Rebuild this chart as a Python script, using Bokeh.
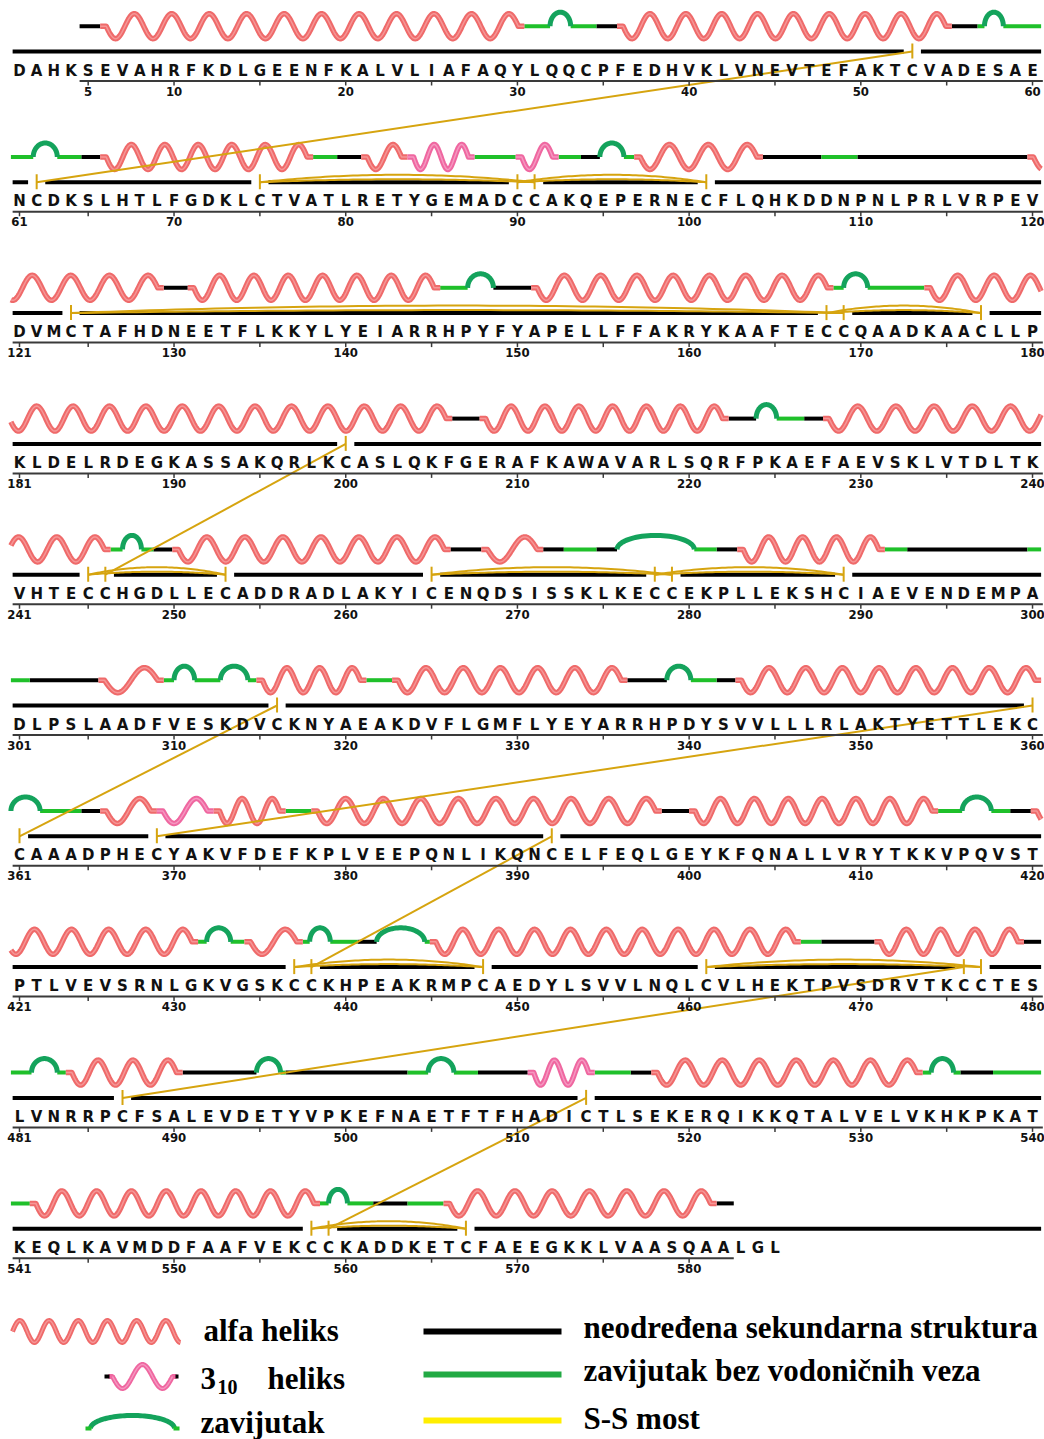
import numpy as np
from bokeh.plotting import figure
from bokeh.models import Range1d
from bokeh.core.properties import value
from bokeh.embed import file_html
from bokeh.resources import INLINE

# ---------------------------------------------------------------- data
SEQUENCE = (
    "DAHKSEVAHRFKDLGEENFKALVLIAFAQYLQQCPFEDHVKLVNEVTEFAKTCVADESAE"
    "NCDKSLHTLFGDKLCTVATLRETYGEMADCCAKQEPERNECFLQHKDDNPNLPRLVRPEV"
    "DVMCTAFHDNEETFLKKYLYEIARRHPYFYAPELLFFAKRYKAAFTECCQAADKAACLLP"
    "KLDELRDEGKASSAKQRLKCASLQKFGERAFKAWAVARLSQRFPKAEFAEVSKLVTDLTK"
    "VHTECCHGDLLECADDRADLAKYICENQDSISSKLKECCEKPLLEKSHCIAEVENDEMPA"
    "DLPSLAADFVESKDVCKNYAEAKDVFLGMFLYEYARRHPDYSVVLLLRLAKTYETTLEKC"
    "CAAADPHECYAKVFDEFKPLVEEPQNLIKQNCELFEQLGEYKFQNALLVRYTKKVPQVST"
    "PTLVEVSRNLGKVGSKCCKHPEAKRMPCAEDYLSVVLNQLCVLHEKTPVSDRVTKCCTES"
    "LVNRRPCFSALEVDETYVPKEFNAETFTFHADICTLSEKERQIKKQTALVELVKHKPKAT"
    "KEQLKAVMDDFAAFVEKCCKADDKETCFAEEGKKLVAASQAALGL"
)
RESIDUES_PER_ROW = 60
RULER_FIRST, RULER_LAST = 4.5, 582.6   # residues covered by the model
FIRST_LABEL = 5

# secondary structure: (kind, from, to) on the residue axis
# H alpha helix, G 3-10 helix, T turn, S bend, C undefined
SS_SEGMENTS = [
    ("C", 4.5, 5.7), ("H", 5.7, 30.4), ("S", 30.4, 31.9), ("T", 31.9, 33.1),
    ("S", 33.1, 34.6), ("C", 34.6, 35.8), ("H", 35.8, 55.3), ("C", 55.3, 56.8),
    ("S", 56.8, 57.2), ("T", 57.2, 58.3), ("S", 58.3, 61.8), ("T", 61.8, 63.2),
    ("S", 63.2, 64.6), ("C", 64.6, 65.7), ("H", 65.7, 78.1), ("S", 78.1, 79.5),
    ("C", 79.5, 80.9), ("H", 80.9, 83.6), ("G", 83.6, 87.5), ("S", 87.5, 89.9),
    ("G", 89.9, 92.4), ("S", 92.4, 93.7), ("C", 93.7, 94.8), ("T", 94.8, 96.2),
    ("S", 96.2, 96.8), ("H", 96.8, 104.3), ("C", 104.3, 107.7), ("S", 107.7, 109.8),
    ("C", 109.8, 119.7), ("H", 119.7, 129.4), ("C", 129.4, 130.8), ("H", 130.8, 145.5),
    ("S", 145.5, 147.1), ("T", 147.1, 148.6), ("C", 148.6, 150.8), ("H", 150.8, 168.4),
    ("S", 168.4, 169.0), ("T", 169.0, 170.4), ("S", 170.4, 173.7), ("H", 173.7, 206.2),
    ("C", 206.2, 207.8), ("H", 207.8, 222.3), ("C", 222.3, 223.9), ("T", 223.9, 225.1),
    ("S", 225.1, 226.7), ("C", 226.7, 227.8), ("H", 227.8, 246.3), ("S", 246.3, 247.0),
    ("T", 247.0, 248.1), ("S", 248.1, 248.8), ("C", 248.8, 249.9), ("H", 249.9, 266.1),
    ("C", 266.1, 267.9), ("H", 267.9, 271.5), ("C", 271.5, 272.7), ("S", 272.7, 274.6),
    ("C", 274.6, 275.8), ("T", 275.8, 280.3), ("S", 280.3, 281.6), ("C", 281.6, 282.8),
    ("H", 282.8, 291.4), ("S", 291.4, 292.7), ("C", 292.7, 299.7), ("S", 299.7, 301.6),
    ("C", 301.6, 305.6), ("H", 305.6, 309.4), ("S", 309.4, 310.0), ("T", 310.0, 311.2),
    ("S", 311.2, 312.7), ("T", 312.7, 314.3), ("S", 314.3, 314.8), ("H", 314.8, 321.2),
    ("S", 321.2, 322.7), ("H", 322.7, 336.4), ("C", 336.4, 338.7), ("T", 338.7, 340.1),
    ("S", 340.1, 341.6), ("C", 341.6, 342.7), ("H", 342.7, 360.5), ("T", 360.5, 362.2),
    ("S", 362.2, 364.6), ("C", 364.6, 365.7), ("H", 365.7, 369.0), ("G", 369.0, 372.3),
    ("H", 372.3, 376.5), ("S", 376.5, 378.0), ("H", 378.0, 398.4), ("C", 398.4, 400.0),
    ("H", 400.0, 414.5), ("S", 414.5, 415.9), ("T", 415.9, 417.6), ("S", 417.6, 418.7),
    ("C", 418.7, 419.9), ("H", 419.9, 431.4), ("S", 431.4, 431.9), ("T", 431.9, 433.3),
    ("S", 433.3, 434.1), ("H", 434.1, 437.5), ("S", 437.5, 437.9), ("T", 437.9, 439.1),
    ("S", 439.1, 440.7), ("C", 440.7, 441.8), ("T", 441.8, 444.6), ("S", 444.6, 444.9),
    ("H", 444.9, 466.5), ("S", 466.5, 467.7), ("C", 467.7, 470.8), ("H", 470.8, 479.5),
    ("C", 479.5, 480.5), ("S", 480.5, 481.7), ("T", 481.7, 483.2), ("S", 483.2, 483.7),
    ("H", 483.7, 490.5), ("C", 490.5, 494.8), ("T", 494.8, 496.2), ("S", 496.2, 496.5),
    ("C", 496.5, 503.6), ("S", 503.6, 504.8), ("T", 504.8, 506.3), ("S", 506.3, 507.7),
    ("C", 507.7, 510.6), ("G", 510.6, 514.5), ("S", 514.5, 516.6), ("C", 516.6, 517.8),
    ("H", 517.8, 533.6), ("S", 533.6, 534.1), ("T", 534.1, 535.4), ("S", 535.4, 535.8),
    ("C", 535.8, 537.7), ("S", 537.7, 541.6), ("H", 541.6, 558.5), ("S", 558.5, 559.0),
    ("T", 559.0, 560.1), ("S", 560.1, 561.6), ("C", 561.6, 563.6), ("S", 563.6, 565.7),
    ("H", 565.7, 581.6), ("C", 581.6, 582.6),
]

# disulfide bridges (cysteine pairs)
DISULFIDES = [
    (53, 62), (75, 91), (90, 101), (124, 169), (168, 177), (200, 246),
    (245, 253), (265, 279), (278, 289), (316, 361), (360, 369), (392, 438),
    (437, 448), (461, 477), (476, 487), (514, 559), (558, 567),
]

LEGEND_LEFT = ["alfa heliks", "heliks", "zavijutak"]
LEGEND_RIGHT = ["neodređena sekundarna struktura",
                "zavijutak bez vodoničnih veza", "S-S most"]

# ---------------------------------------------------------------- layout
W, H = 1044, 1439
PX = 17.17            # pixels per residue
X0 = 19.0             # pixel centre of the first column
ROW_STEP = 130.8
SS_Y, BB_Y, SEQ_Y, RULER_Y, NUM_Y = 25.7, 51.0, 70.0, 80.5, 90.5
AMP, PERIOD, STUB = 12.5, 2.1, 0.35
ARCH_H = 14.0

COL = dict(C="#000000", S="#1fc02a", T="#14a35c", H="#ef6a6a", G="#ef67a0")
HILITE = dict(H="#f59696", G="#f597c0")
BRIDGE = "#d6a40f"
SEQ_FONT = value("DejaVu Sans")
NUM_FONT = value("DejaVu Sans Condensed")
LEG_FONT = value("Liberation Serif")


def px2x(px):
    return 1 + (px - X0) / PX


p = figure(width=W, height=H, output_backend="svg", toolbar_location=None,
           x_range=Range1d(px2x(0), px2x(W)), y_range=Range1d(H, 0),
           x_axis_location=None, y_axis_location=None, min_border=0)
p.grid.visible = False
p.outline_line_color = None
p.background_fill_color = "white"
p.border_fill_color = "white"


def row_pieces(a, b):
    r0 = int(np.floor((a + 1e-9 - 0.5) / RESIDUES_PER_ROW))
    r1 = int(np.floor((b - 1e-9 - 0.5) / RESIDUES_PER_ROW))
    for r in range(r0, r1 + 1):
        lo = max(a, r * RESIDUES_PER_ROW + 0.5)
        hi = min(b, r * RESIDUES_PER_ROW + RESIDUES_PER_ROW + 0.5)
        if hi > lo:
            yield r, lo, hi


# ---- secondary structure track
flat = {"C": ([], []), "S": ([], [])}
waves = {"H": ([], []), "G": ([], [])}
arch_x, arch_y = [], []

for kind, a, b in SS_SEGMENTS:
    if kind in flat:
        for r, lo, hi in row_pieces(a, b):
            off = r * RESIDUES_PER_ROW
            base = r * ROW_STEP + SS_Y
            flat[kind][0].append([lo - off, hi - off])
            flat[kind][1].append([base, base])
    elif kind in waves:
        xs, xe = a + STUB, b - STUB
        n = max(1, round((xe - xs) / PERIOD))
        per = (xe - xs) / n
        for r, lo, hi in row_pieces(a, b):
            off = r * RESIDUES_PER_ROW
            base = r * ROW_STEP + SS_Y
            g = np.linspace(lo, hi, max(30, int((hi - lo) * 24)))
            g = np.unique(np.concatenate([g, [v for v in (xs, xe) if lo < v < hi]]))
            inside = (g >= xs) & (g <= xe)
            y = np.where(inside, AMP * np.sin(2 * np.pi * (g - xs) / per), 0.0)
            waves[kind][0].append(list(g - off))
            waves[kind][1].append(list(base + y))
    else:  # turn arch
        for r, lo, hi in row_pieces(a, b):
            off = r * RESIDUES_PER_ROW
            base = r * ROW_STEP + SS_Y
            th = np.linspace(np.pi, 0, 40)
            c, rx = (lo + hi) / 2 - off, (hi - lo) / 2
            arch_x.append(list(c + rx * np.cos(th)))
            arch_y.append(list(base - ARCH_H * np.sin(th)))

for kind in ("C", "S"):
    p.multi_line(flat[kind][0], flat[kind][1], line_color=COL[kind], line_width=4,
                 line_cap="butt")
p.multi_line(arch_x, arch_y, line_color=COL["T"], line_width=5, line_cap="butt")
for kind in ("H", "G"):
    p.multi_line(waves[kind][0], waves[kind][1], line_color=COL[kind], line_width=5.5,
                 line_join="round")
    p.multi_line(waves[kind][0], waves[kind][1], line_color=HILITE[kind],
                 line_width=1.5, line_join="round")

# ---- backbone line, broken at bridged cysteines
n_rows = (len(SEQUENCE) + RESIDUES_PER_ROW - 1) // RESIDUES_PER_ROW
bridged = {c for pair in DISULFIDES for c in pair}
bb_x, bb_y = [], []
for r in range(n_rows):
    y = r * ROW_STEP + BB_Y
    start = None
    for col in range(1, RESIDUES_PER_ROW + 2):
        res = r * RESIDUES_PER_ROW + col
        ok = col <= RESIDUES_PER_ROW and res not in bridged
        if ok and start is None:
            start = col
        if not ok and start is not None:
            bb_x.append([max(start - 0.5, 0.6), min(col - 0.5, 60.55)])
            bb_y.append([y, y])
            start = None
p.multi_line(bb_x, bb_y, line_color="black", line_width=4, line_cap="butt")


# ---- disulfide bridges
def place(res):
    r = (res - 1) // RESIDUES_PER_ROW
    return (res - 1) % RESIDUES_PER_ROW + 1, r * ROW_STEP + BB_Y


br_x, br_y, tick_x, tick_y = [], [], [], []
for c1, c2 in DISULFIDES:
    (x1, y1), (x2, y2) = place(c1), place(c2)
    for xx, yy in ((x1, y1), (x2, y2)):
        tick_x.append([xx, xx])
        tick_y.append([yy - 8, yy + 7])
    if y1 == y2:
        t = np.linspace(0, 1, 60)
        for h in (7.5, 3.0):
            br_x.append(list(x1 + (x2 - x1) * t))
            br_y.append(list(y1 - h * 4 * t * (1 - t)))
    else:
        br_x.append([x1, x2])
        br_y.append([y1, y2])
p.multi_line(br_x, br_y, line_color=BRIDGE, line_width=2)
p.multi_line(tick_x, tick_y, line_color=BRIDGE, line_width=2)

# ---- sequence letters
idx = np.arange(len(SEQUENCE))
p.text(x=list(idx % RESIDUES_PER_ROW + 1),
       y=list((idx // RESIDUES_PER_ROW) * ROW_STEP + SEQ_Y),
       text=list(SEQUENCE), text_font=SEQ_FONT, text_font_size="15px",
       text_font_style="bold", text_align="center", text_baseline="middle",
       text_color="#111111")

# ---- residue ruler
rl_x, rl_y, tk_x, tk_y, lab_x, lab_y, lab_t = [], [], [], [], [], [], []
for r in range(n_rows):
    off = r * RESIDUES_PER_ROW
    lo = max(off + 0.6, RULER_FIRST)
    hi = min(off + 60.6, RULER_LAST)
    y = r * ROW_STEP + RULER_Y
    rl_x.append([lo - off, hi - off])
    rl_y.append([y, y])
    first = FIRST_LABEL if r == 0 else off + 1
    for res in range(off + 1, off + RESIDUES_PER_ROW + 1):
        if res < lo or res > hi:
            continue
        if res % 5 == 0 or res == first:
            tk_x.append([res - off, res - off])
            tk_y.append([y, y + 4.5])
        if res % 10 == 0 or res == first:
            lab_x.append(res - off)
            lab_y.append(r * ROW_STEP + NUM_Y)
            lab_t.append(str(res))
p.multi_line(rl_x, rl_y, line_color="#3a3a3a", line_width=2)
p.multi_line(tk_x, tk_y, line_color="#3a3a3a", line_width=1.5)
p.text(x=lab_x, y=lab_y, text=lab_t, text_font=NUM_FONT, text_font_size="13px",
       text_font_style="bold", text_align="center", text_baseline="middle",
       text_color="#111111")

# ---------------------------------------------------------------- legend
# alpha helix sample
lx = np.linspace(12, 180, 200)
ly = 1331 - 11 * np.sin(2 * np.pi * 5.75 * (lx - 12) / 168)
p.line(px2x(lx), ly, line_color=COL["H"], line_width=5)
p.line(px2x(lx), ly, line_color=HILITE["H"], line_width=1.4)
# 3-10 helix sample
gx = np.linspace(112, 172, 80)
gy = 1376 + 12 * np.sin(2 * np.pi * 1.5 * (gx - 112) / 60)
p.line(px2x(np.r_[108, gx, 176]), np.r_[1376, gy, 1376], line_color=COL["G"],
       line_width=5)
p.line(px2x(gx), gy, line_color=HILITE["G"], line_width=1.4)
p.line(px2x(np.array([104, 109])), [1376, 1376], line_color="black", line_width=4)
p.line(px2x(np.array([175, 178])), [1376, 1376], line_color="black", line_width=4)
# turn sample
th = np.linspace(np.pi, 0, 60)
p.line(px2x(132 + 42 * np.cos(th)), 1428 - 13 * np.sin(th), line_color=COL["T"],
       line_width=5)
p.multi_line([list(px2x(np.array([85, 91]))), list(px2x(np.array([173, 179])))],
             [[1428, 1428], [1428, 1428]], line_color=COL["S"], line_width=4)

p.text(x=[px2x(203), px2x(267), px2x(200)], y=[1330, 1378, 1422], text=LEGEND_LEFT,
       text_font=LEG_FONT, text_font_size="31px", text_font_style="bold",
       text_baseline="middle", text_color="black")
p.text(x=[px2x(200)], y=[1378], text=["3"], text_font=LEG_FONT,
       text_font_size="31px", text_font_style="bold", text_baseline="middle",
       text_color="black")
p.text(x=[px2x(217)], y=[1386], text=["10"], text_font=LEG_FONT,
       text_font_size="20px", text_font_style="bold", text_baseline="middle",
       text_color="black")

p.multi_line([list(px2x(np.array([423, 561])))] * 3,
             [[1331, 1331], [1374, 1374], [1420, 1420]],
             line_color=["black", "#22aa44", "#ffee00"], line_width=6)
p.text(x=[px2x(583)] * 3, y=[1327, 1370, 1418], text=LEGEND_RIGHT,
       text_font=LEG_FONT, text_font_size="31px", text_font_style="bold",
       text_baseline="middle", text_color="black")

open("out.html", "w").write(file_html(p, INLINE))
